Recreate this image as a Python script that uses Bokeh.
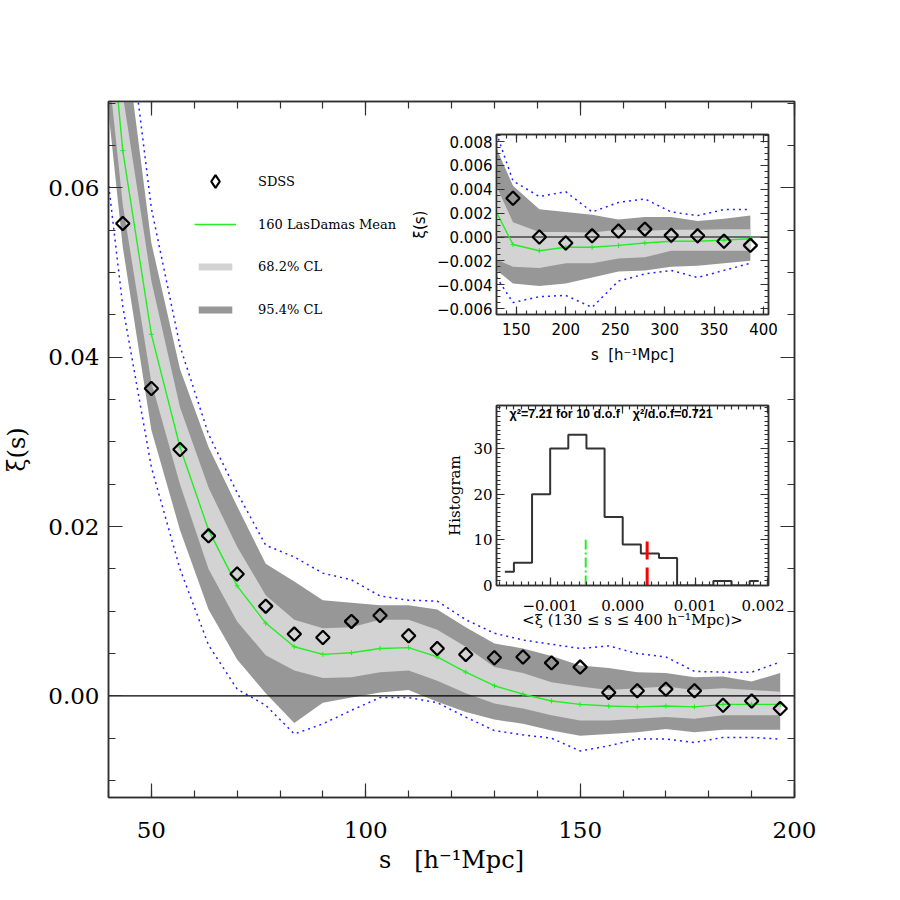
import numpy as np
from bokeh.plotting import figure
from bokeh.models import (SingleIntervalTicker, LinearAxis, Legend, LegendItem,
                          PrintfTickFormatter, CustomJSTickFormatter, Label, Range1d)
from bokeh.layouts import column
from bokeh.embed import file_html
from bokeh.resources import INLINE

# ---------------- main panel data ----------------
s_bins = [36.67, 43.33, 50.0, 56.67, 63.33, 70.0, 76.67, 83.33, 90.0, 96.67, 103.33,
          110.0, 116.67, 123.33, 130.0, 136.67, 143.33, 150.0, 156.67, 163.33, 170.0,
          176.67, 183.33, 190.0, 196.67]
mock_mean = [0.100, 0.0644, 0.0427, 0.0294, 0.0196, 0.0130, 0.0086, 0.0058, 0.0049, 0.0051,
             0.0056, 0.0057, 0.0046, 0.0028, 0.0012, 0.0002, -0.0006, -0.0010, -0.0012,
             -0.0013, -0.0012, -0.0013, -0.0010, -0.0010, -0.0010]
lo68 = [0.090, 0.058, 0.037, 0.025, 0.0150, 0.0088, 0.0048, 0.0030, 0.0021, 0.0022, 0.0028,
        0.0030, 0.0018, 0.0003, -0.0009, -0.0015, -0.0023, -0.0029, -0.0029, -0.0027,
        -0.0025, -0.0027, -0.0023, -0.0023, -0.0023]
hi68 = [0.110, 0.071, 0.049, 0.0341, 0.0246, 0.0176, 0.0119, 0.0090, 0.0080, 0.0081, 0.0090,
        0.0090, 0.0078, 0.0058, 0.0034, 0.0027, 0.0016, 0.0011, 0.0007, 0.0009, 0.0011,
        0.0007, 0.0009, 0.0007, 0.0005]
lo95 = [0.085, 0.053, 0.0314, 0.0196, 0.0102, 0.0043, 0.0003, -0.0032, -0.0008, -0.0002,
        0.0004, 0.0007, -0.0007, -0.0019, -0.0028, -0.0033, -0.0041, -0.0047, -0.0045,
        -0.0043, -0.0039, -0.0043, -0.0040, -0.0040, -0.0040]
hi95 = [0.120, 0.080, 0.0535, 0.0386, 0.0294, 0.0224, 0.0156, 0.0135, 0.0113, 0.0110, 0.0107,
        0.0107, 0.0102, 0.0081, 0.0062, 0.0056, 0.0047, 0.0036, 0.0033, 0.0028, 0.0027,
        0.0022, 0.0023, 0.0017, 0.0027]
mock_max = [0.140, 0.085, 0.0576, 0.0413, 0.0309, 0.0240, 0.0178, 0.0164, 0.0145, 0.0137,
            0.0118, 0.0113, 0.0112, 0.0090, 0.0074, 0.0066, 0.0061, 0.0056, 0.0059, 0.0050,
            0.0046, 0.0029, 0.0028, 0.0028, 0.0040]
mock_min = [0.075, 0.046, 0.027, 0.0150, 0.0060, 0.0008, -0.0011, -0.0045, -0.0033, -0.0017,
            -0.0002, -0.0002, -0.0008, -0.0025, -0.0041, -0.0046, -0.0050, -0.0065, -0.0059,
            -0.0051, -0.0051, -0.0055, -0.0049, -0.0049, -0.0051]
s_sdss = [43.33, 50.0, 56.67, 63.33, 70.0, 76.67, 83.33, 90.0, 96.67, 103.33, 110.0, 116.67,
          123.33, 130.0, 136.67, 143.33, 150.0, 156.67, 163.33, 170.0, 176.67, 183.33,
          190.0, 196.67]
xi_sdss = [0.0558, 0.0363, 0.0291, 0.0189, 0.0144, 0.0106, 0.0073, 0.0069, 0.0088, 0.0095,
           0.0071, 0.0056, 0.0049, 0.0045, 0.0046, 0.0039, 0.0034, 0.0004, 0.0006, 0.0008,
           0.0006, -0.0011, -0.0006, -0.0015]

# ---------------- inset 1 data (large scales) ----------------
s_big = [120.0, 146.67, 173.33, 200.0, 226.67, 253.33, 280.0, 306.67, 333.33, 360.0, 386.67]
big_mean = [0.0037, -0.00063, -0.00115, -0.00086, -0.00086, -0.0007, -0.0005, -0.00035,
            -0.00035, -0.00026, -0.00014]
big_hi95 = [0.0093, 0.0043, 0.00233, 0.0021, 0.00187, 0.00147, 0.00167, 0.00167, 0.00135,
            0.00153, 0.0018]
big_hi68 = [0.0061, 0.00124, 0.00043, 0.00043, 0.00037, 0.0006, 0.00052, 0.0006, 0.0006,
            0.00066, 0.00066]
big_lo68 = [-0.0015, -0.0025, -0.0026, -0.0022, -0.0022, -0.0018, -0.0017, -0.00115,
            -0.00115, -0.00115, -0.00115]
big_lo95 = [-0.0021, -0.0039, -0.0041, -0.0039, -0.0034, -0.0029, -0.0028, -0.0025, -0.0024,
            -0.0022, -0.0020]
big_max = [0.0111, 0.0047, 0.0034, 0.0038, 0.0021, 0.0029, 0.0032, 0.0021, 0.0018, 0.0023,
           0.0023]
big_min = [-0.0021, -0.0055, -0.0050, -0.0049, -0.0059, -0.0037, -0.0031, -0.0028, -0.0034,
           -0.0028, -0.0022]
s_big_sdss = [146.67, 173.33, 200.0, 226.67, 253.33, 280.0, 306.67, 333.33, 360.0, 386.67]
xi_big_sdss = [0.00325, 0.0000, -0.0005, 0.0001, 0.0005, 0.00066, 0.00014, 0.0001,
               -0.00035, -0.0007]

# ---------------- inset 2 data (histogram) ----------------
hist_centers = [-0.001625, -0.001375, -0.001125, -0.000875, -0.000625, -0.000375, -0.000125,
                0.000125, 0.000375, 0.000625, 0.000875, 0.001125, 0.001375, 0.001625, 0.001875]
hist_counts = [3, 5, 20, 30, 33, 30, 15, 9, 7, 6, 0, 0, 1, 0, 1]
mock_avg_xi = -0.00051
sdss_avg_xi = 0.000337
marker_height = [0, 10]
chi2_text = "χ²=7.21 for 10 d.o.f"
chi2dof_text = "χ²/d.o.f=0.721"

# ---------------- styling ----------------
SERIF = "DejaVu Serif"
SANS = "DejaVu Sans"
LIGHT = "#d3d3d3"
DARK = "#979797"
BLUE = "#2020ff"
GREEN = "#22ee22"
FRAME = "#303030"
SLAB_MAIN = "s\u00a0\u00a0\u00a0[h⁻¹Mpc]"
SLAB = "s\u00a0\u00a0[h⁻¹Mpc]"

blank = CustomJSTickFormatter(code="return ''")


def minus_fmt(dec):
    return CustomJSTickFormatter(code=(
        "if (Math.abs(tick) < 1e-12) { tick = 0; }"
        "const s = Math.abs(tick).toFixed(%d);"
        "return (tick < 0 ? '\\u2212' : '') + s;" % dec))


def box_axes(p, xtick, ytick, xfmt, yfmt, font, fsize, maj, mnr,
             xlab, ylab, xstd, ystd, xlstd, ylstd, lfont, lsize):
    p.xgrid.visible = False
    p.ygrid.visible = False
    bx = p.xaxis[0]
    ly = p.yaxis[0]
    bx.ticker = xtick
    ly.ticker = ytick
    bx.formatter = xfmt
    ly.formatter = yfmt
    bx.axis_label = xlab
    ly.axis_label = ylab
    bx.major_label_standoff = xstd
    ly.major_label_standoff = ystd
    bx.axis_label_standoff = xlstd
    ly.axis_label_standoff = ylstd
    top = LinearAxis(ticker=xtick, formatter=blank)
    right = LinearAxis(ticker=ytick, formatter=blank)
    p.add_layout(top, "above")
    p.add_layout(right, "right")
    for ax in (bx, ly, top, right):
        ax.major_tick_in = maj
        ax.major_tick_out = 0
        ax.minor_tick_in = mnr
        ax.minor_tick_out = 0
        ax.axis_line_color = FRAME
        ax.axis_line_width = 1.5
        ax.major_tick_line_color = FRAME
        ax.minor_tick_line_color = FRAME
        ax.major_tick_line_width = 1.2
        ax.minor_tick_line_width = 1.2
        ax.major_label_text_font = font
        ax.major_label_text_font_size = fsize
        ax.major_label_text_color = "black"
        ax.axis_label_text_font = lfont
        ax.axis_label_text_font_size = lsize
        ax.axis_label_text_font_style = "normal"
        ax.axis_label_text_color = "black"
    p.outline_line_color = FRAME
    p.outline_line_width = 1.5


# ================= main figure =================
X0, X1 = 40, 200
main = figure(frame_width=686, frame_height=696, x_range=Range1d(X0, X1),
              y_range=Range1d(-0.012, 0.0702), output_backend="svg",
              toolbar_location=None, min_border_left=107, min_border_top=101,
              min_border_right=40, min_border_bottom=80)
main.background_fill_color = "white"
main.border_fill_color = "white"

r_dark = main.varea(x=s_bins, y1=lo95, y2=hi95, fill_color=DARK)
r_light = main.varea(x=s_bins, y1=lo68, y2=hi68, fill_color=LIGHT)
main.line(s_bins, mock_max, line_color=BLUE, line_width=1.5, line_dash="2 4")
main.line(s_bins, mock_min, line_color=BLUE, line_width=1.5, line_dash="2 4")
main.line([X0, X1], [0, 0], line_color="black", line_width=1.2)
r_mean = main.line(s_bins, mock_mean, line_color=GREEN, line_width=1.4)
main.scatter(s_bins, mock_mean, marker="cross", size=5, line_color=GREEN, line_width=1)
main.scatter(s_sdss, xi_sdss, marker="square", angle=np.pi / 4, size=9.5,
             fill_color=None, line_color="black", line_width=2.2)
# legend key for the SDSS points: same data, muted (invisible) in the frame
r_sdss_key = main.scatter(s_sdss, xi_sdss, marker="diamond", size=12, fill_color=None,
                          line_color="black", line_width=2.2, muted_line_alpha=0,
                          muted_fill_alpha=0)
r_sdss_key.muted = True

box_axes(main, SingleIntervalTicker(interval=50, num_minor_ticks=5),
         SingleIntervalTicker(interval=0.02, num_minor_ticks=4),
         PrintfTickFormatter(format="%d"), PrintfTickFormatter(format="%.2f"),
         SERIF, "23px", 14, 7, SLAB_MAIN, "ξ(s)", 24, 9, 5, 14, SERIF, "24px")

leg1 = Legend(items=[LegendItem(label="SDSS", renderers=[r_sdss_key]),
                     LegendItem(label="160 LasDamas Mean", renderers=[r_mean])],
              location=(86, 557), glyph_width=42, glyph_height=32, label_standoff=22,
              spacing=11, padding=0, margin=0, border_line_color=None,
              background_fill_alpha=0, label_text_font=SERIF, label_text_font_size="13px",
              label_text_color="black", inactive_fill_alpha=0)
leg2 = Legend(items=[LegendItem(label="68.2% CL", renderers=[r_light]),
                     LegendItem(label="95.4% CL", renderers=[r_dark])],
              location=(86, 480), glyph_width=42, glyph_height=9, label_height=9,
              label_standoff=22, spacing=28, padding=0, margin=0, border_line_color=None,
              background_fill_alpha=0, label_text_font=SERIF, label_text_font_size="13px",
              label_text_color="black")
main.add_layout(leg1)
main.add_layout(leg2)

# ================= inset 1 =================
B0, B1 = 130, 405
ins1 = figure(frame_width=272, frame_height=180, x_range=Range1d(B0, B1),
              y_range=Range1d(-0.0065, 0.0086), output_backend="svg",
              toolbar_location=None, min_border_left=90, min_border_top=10,
              min_border_right=34, min_border_bottom=55)
ins1.background_fill_color = "white"
ins1.border_fill_color = None
ins1.varea(x=s_big, y1=big_lo95, y2=big_hi95, fill_color=DARK)
ins1.varea(x=s_big, y1=big_lo68, y2=big_hi68, fill_color=LIGHT)
ins1.line(s_big, big_max, line_color=BLUE, line_width=1.5, line_dash="2 4")
ins1.line(s_big, big_min, line_color=BLUE, line_width=1.5, line_dash="2 4")
ins1.line([B0, B1], [0, 0], line_color="black", line_width=1.2)
ins1.line(s_big, big_mean, line_color=GREEN, line_width=1.4)
ins1.scatter(s_big, big_mean, marker="cross", size=5, line_color=GREEN, line_width=1)
ins1.scatter(s_big_sdss, xi_big_sdss, marker="square", angle=np.pi / 4, size=9.5,
             fill_color=None, line_color="black", line_width=2.2)
box_axes(ins1, SingleIntervalTicker(interval=50, num_minor_ticks=5),
         SingleIntervalTicker(interval=0.002, num_minor_ticks=4),
         PrintfTickFormatter(format="%d"), minus_fmt(3),
         SANS, "15px", 8, 4, SLAB, "ξ(s)", 8, 4, 8, 5, SANS, "15px")
ins1.styles = {"position": "absolute", "left": "388px", "top": "124px"}

# ================= inset 2 =================
ins2 = figure(frame_width=272, frame_height=180, x_range=Range1d(-0.00174, 0.00201),
              y_range=Range1d(0, 39.4), output_backend="svg",
              toolbar_location=None, min_border_left=90, min_border_top=10,
              min_border_right=34, min_border_bottom=50)
ins2.background_fill_color = "white"
ins2.border_fill_color = None
ins2.step(hist_centers, hist_counts, mode="center", line_color="#333333", line_width=2)
ins2.line([mock_avg_xi, mock_avg_xi], marker_height, line_color=GREEN, line_width=2,
          line_dash="10 3 2 3")
ins2.line([sdss_avg_xi, sdss_avg_xi], marker_height, line_color="#ff0000", line_width=3,
          line_dash="18 8")
ins2.add_layout(Label(x=-0.00156, y=37.6, text=chi2_text, text_font="Liberation Sans",
                      text_font_style="bold", text_font_size="12.5px",
                      text_baseline="middle", text_color="black"))
ins2.add_layout(Label(x=0.00014, y=37.6, text=chi2dof_text, text_font="Liberation Sans",
                      text_font_style="bold", text_font_size="12.5px",
                      text_baseline="middle", text_color="black"))
box_axes(ins2, SingleIntervalTicker(interval=0.001, num_minor_ticks=10),
         SingleIntervalTicker(interval=10, num_minor_ticks=10),
         minus_fmt(3), PrintfTickFormatter(format="%d"),
         SERIF, "15px", 8, 4, "<ξ (130 ≤ s ≤ 400 h⁻¹Mpc)>", "Histogram",
         14, 4, -3, 6, SERIF, "15px")
ins2.styles = {"position": "absolute", "left": "388px", "top": "395px"}

layout = column(main, ins1, ins2)
open("out.html", "w").write(file_html(layout, INLINE, title="xi(s)"))
